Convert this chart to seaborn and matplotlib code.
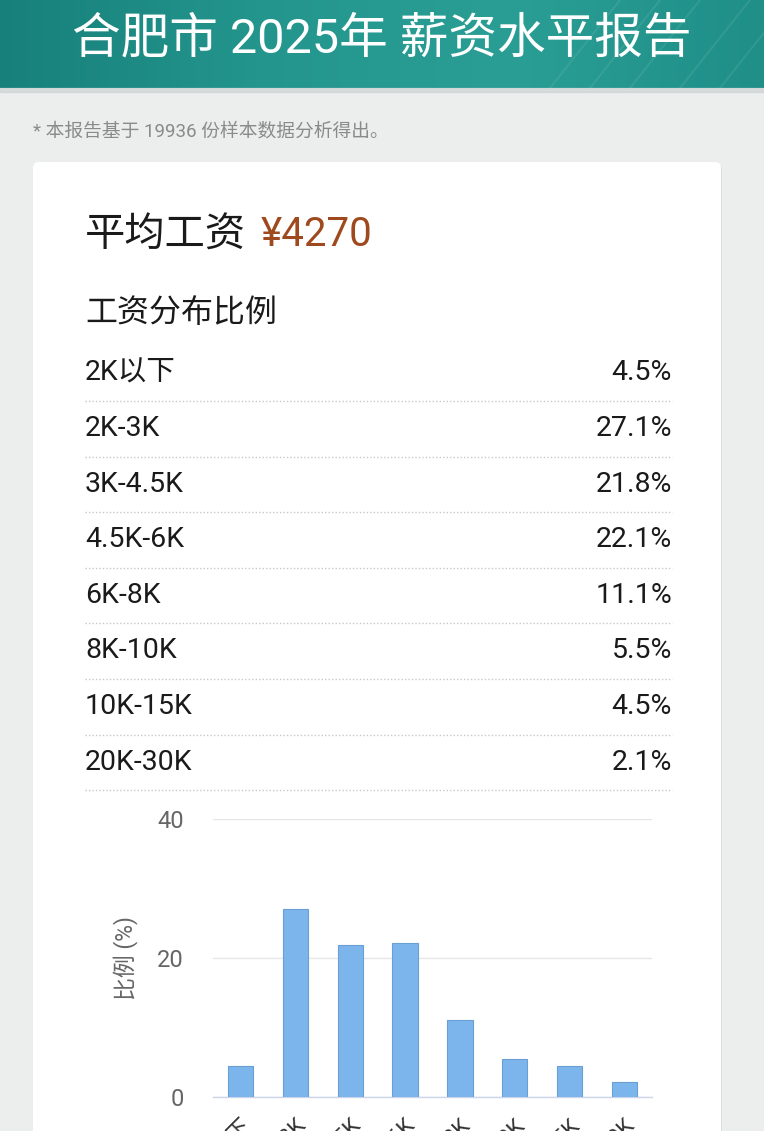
import numpy as np
import pandas as pd
import matplotlib
matplotlib.use("Agg")
import matplotlib.pyplot as plt
from matplotlib.patches import Rectangle, FancyBboxPatch
from matplotlib.colors import LinearSegmentedColormap
import seaborn as sns

## Data
city = "合肥市"
year = "2025年"
samples = 19936
avg_salary = 4270
ranges = ["2K以下", "2K-3K", "3K-4.5K", "4.5K-6K", "6K-8K", "8K-10K", "10K-15K", "20K-30K"]
pct = [4.5, 27.1, 21.8, 22.1, 11.1, 5.5, 4.5, 2.1]
y_ticks = [0, 20, 40]

sns.set_theme(style="white")
plt.rcParams['font.family'] = ['Roboto', 'Noto Sans CJK SC', 'DejaVu Sans']

W, H = 764, 1131
fig = plt.figure(figsize=(W / 100, H / 100), dpi=100)
fig.patch.set_facecolor('#eceeee')

# background layer in pixel coords
bg = fig.add_axes([0, 0, 1, 1])
bg.set_xlim(0, W)
bg.set_ylim(H, 0)
bg.axis('off')

# header band with gradient
cmap = LinearSegmentedColormap.from_list('teal', ['#17807a', '#23958d', '#2a9e95', '#1f8f88'])
grad = np.linspace(0, 1, 256).reshape(1, -1)
bg.imshow(grad, cmap=cmap, extent=[0, W, 88, 0], aspect='auto', zorder=1)
for x0 in [560, 600, 640, 690, 730]:
    bg.plot([x0 + 60, x0 - 10], [0, 88], color='white', alpha=0.08, lw=1.5, zorder=2)
bg.add_patch(Rectangle((0, 88), W, 4, color='#c9cfcf', alpha=0.6, zorder=1))
bg.text(W / 2, 40, f"{city} {year} 薪资水平报告", color='white', fontsize=35,
        ha='center', va='center', zorder=3)

bg.text(33, 131, f"* 本报告基于 {samples} 份样本数据分析得出。", color='#8a8a8a',
        fontsize=13.5, ha='left', va='center')

# card
bg.add_patch(FancyBboxPatch((34, 164), 688, 1000, boxstyle="round,pad=0,rounding_size=6",
                            facecolor='#dcdede', edgecolor='none', zorder=1))
bg.add_patch(FancyBboxPatch((33, 162), 688, 1000, boxstyle="round,pad=0,rounding_size=6",
                            facecolor='white', edgecolor='none', zorder=2))

bg.text(85, 235, "平均工资", color='#1a1a1a', fontsize=29, ha='left', va='center', zorder=3)
bg.text(261, 235, f"¥{avg_salary}", color='#9e4a1e', fontsize=29, ha='left', va='center', zorder=3)
bg.text(85, 313, "工资分布比例", color='#1a1a1a', fontsize=23, ha='left', va='center', zorder=3)

row_y0, row_h = 373, 55.6
for i, (r, p) in enumerate(zip(ranges, pct)):
    yc = row_y0 + i * row_h
    bg.text(85, yc, r, color='#1a1a1a', fontsize=20.5, ha='left', va='center', zorder=3)
    bg.text(672, yc, f"{p}%", color='#1a1a1a', fontsize=20.5, ha='right', va='center', zorder=3)
    bg.plot([85, 672], [yc + 28, yc + 28], color='#c8c8c8', lw=1, ls=(0, (1, 1.5)), zorder=3)

# chart
ax = fig.add_axes([213 / W, 34 / H, 439 / W, 278 / H])
ax.set_facecolor('none')
df = pd.DataFrame({'range': ranges, 'pct': pct})
sns.barplot(data=df, x='range', y='pct', color='#7cb5ec', width=0.46,
            edgecolor='#6a9fd3', linewidth=0.8, saturation=1, ax=ax, zorder=3)
ax.set_xlim(-0.5, len(ranges) - 0.5)
ax.set_ylim(0, 40)
ax.set_yticks(y_ticks)
ax.yaxis.grid(True, color='#e6e6e6', lw=1)
ax.set_axisbelow(True)
for s in ['top', 'right', 'left']:
    ax.spines[s].set_visible(False)
ax.spines['bottom'].set_color('#ccd6eb')
ax.spines['bottom'].set_linewidth(1)
ax.tick_params(axis='y', length=0, pad=21, labelsize=17, labelcolor='#666666')
ax.set_xticks(np.arange(-0.5, len(ranges)), minor=True)
ax.tick_params(axis='x', which='minor', length=22, width=1, color='#ccd6eb', direction='out')
ax.tick_params(axis='x', which='major', length=0, pad=13, labelsize=16, labelcolor='#333333')
for lbl in ax.get_xticklabels():
    lbl.set_rotation(45)
    lbl.set_ha('right')
    lbl.set_rotation_mode('anchor')
ax.set_xlabel('')
ax.set_ylabel('比例 (%)', fontsize=16.5, color='#666666', labelpad=13)

fig.savefig('out.png', dpi=100, facecolor=fig.get_facecolor())
